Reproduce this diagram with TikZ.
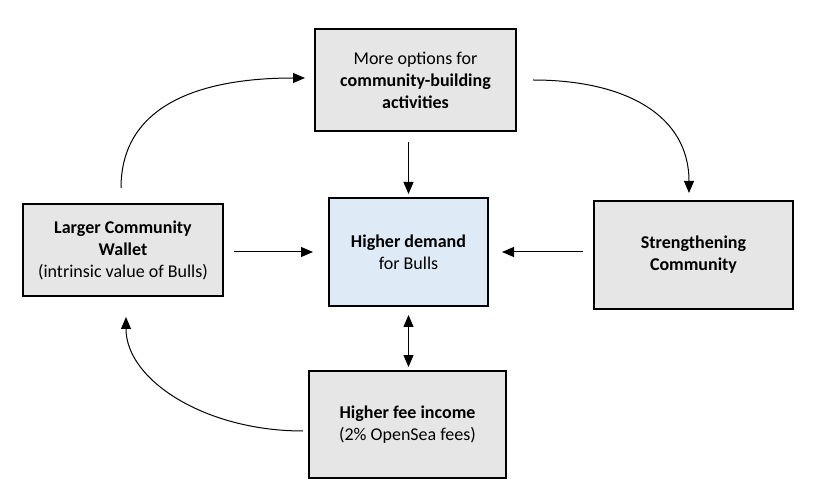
\documentclass[tikz,border=0pt]{standalone}
\usepackage{fontspec}
\setmainfont{Carlito}
\usetikzlibrary{arrows.meta}
\begin{document}
\begin{tikzpicture}[x=0.75pt,y=-0.75pt,
  box/.style={draw=black,line width=1.5pt,fill=boxgray,align=center,inner sep=0pt,
    font=\fontsize{13.5pt}{16.5pt}\selectfont},
  conn/.style={line width=0.75pt,-{Triangle[length=9pt,width=7.5pt]}},
  dconn/.style={line width=0.75pt,{Triangle[length=9pt,width=7.5pt]}-{Triangle[length=9pt,width=7.5pt]}}]
\definecolor{boxgray}{HTML}{E7E6E6}
\definecolor{boxblue}{HTML}{DEEBF7}
\useasboundingbox (0,0) rectangle (814,495);
\fill[white] (0,0) rectangle (814,495);
\node[box,minimum width={201*0.75pt},minimum height={102*0.75pt}] (top) at (415.5,80)
  {More options for\\\textbf{community-building}\\\textbf{activities}};
\node[box,fill=boxblue,minimum width={159*0.75pt},minimum height={108*0.75pt}] (mid) at (408.5,252)
  {\textbf{Higher demand}\\for Bulls};
\node[box,minimum width={199*0.75pt},minimum height={108*0.75pt}] (right) at (693.5,255)
  {\textbf{Strengthening}\\\textbf{Community}};
\node[box,minimum width={200*0.75pt},minimum height={92*0.75pt}] (left) at (123,250)
  {\textbf{Larger Community}\\\textbf{Wallet}\\(intrinsic value of Bulls)};
\node[box,minimum width={197*0.75pt},minimum height={107*0.75pt}] (bot) at (407.5,424.5)
  {\textbf{Higher fee income}\\(2\% OpenSea fees)};
\coordinate (tlA) at (121,188);
\coordinate (tlB) at (305,78);
\coordinate (trA) at (533,80);
\coordinate (trB) at (689,193);
\coordinate (blA) at (303,431);
\coordinate (blB) at (126,317);
\draw[conn,shorten <=7.5pt,shorten >=2.25pt] (top.south -| mid.north) -- (mid.north);
\draw[conn,shorten <=7.5pt,shorten >=11.25pt] (left.east |- mid.west) -- (mid.west);
\draw[conn,shorten <=7.5pt,shorten >=9.75pt] (right.west |- mid.east) -- (mid.east);
\draw[dconn,shorten <=6pt,shorten >=2.25pt] (mid.south) -- (mid.south |- bot.north);
\draw[conn] (tlA) .. controls (121,105) and (200,78) .. (tlB);
\draw[conn] (trA) .. controls (625,80) and (689,115) .. (trB);
\draw[conn] (blA) .. controls (205,431) and (126,380) .. (blB);
\end{tikzpicture}
\end{document}
